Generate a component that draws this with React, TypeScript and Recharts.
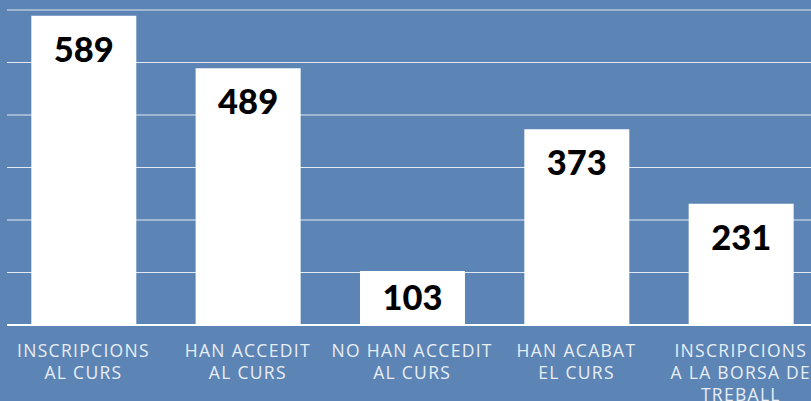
import { BarChart, Bar, XAxis, YAxis, CartesianGrid, LabelList } from 'recharts'

const categories = [
  'INSCRIPCIONS\nAL CURS',
  'HAN ACCEDIT\nAL CURS',
  'NO HAN ACCEDIT\nAL CURS',
  'HAN ACABAT\nEL CURS',
  'INSCRIPCIONS\nA LA BORSA DE\nTREBALL',
]
const values = [589, 489, 103, 373, 231]
const yTicks = [0, 100, 200, 300, 400, 500, 600]

const data = categories.map((name, i) => ({ name, value: values[i] }))

const BG = '#5c84b4'

function CategoryTick(props: any) {
  const { x, y, payload } = props
  const lines = String(payload.value).split('\n')
  return (
    <text
      x={x}
      y={y + 24}
      textAnchor="middle"
      fill="#e8eef6"
      fontFamily="'Open Sans', sans-serif"
      fontSize={17.5}
      letterSpacing={1.3}
    >
      {lines.map((line, i) => (
        <tspan key={i} x={x} dy={i === 0 ? 0 : 22}>
          {line}
        </tspan>
      ))}
    </text>
  )
}

function ValueLabel(props: any) {
  const { x, y, width, height, value } = props
  // short bars get their number centred
  const top = y + Math.min(21, (height - 25) / 2)
  return (
    <text
      x={x + width / 2}
      y={top + 25}
      textAnchor="middle"
      fill="#000"
      fontFamily="Lato, sans-serif"
      fontWeight={900}
      fontSize={34.5}
    >
      {value}
    </text>
  )
}

export default function App() {
  return (
    <div
      style={{
        position: 'fixed',
        left: 0,
        top: 0,
        width: 811,
        height: 401,
        overflow: 'hidden',
        background: BG,
      }}
    >
      <BarChart
        width={823}
        height={401}
        data={data}
        margin={{ top: 10, right: 0, left: 7, bottom: 0 }}
        barSize={105}
      >
        <CartesianGrid vertical={false} stroke="#e2e9f2" strokeWidth={1} />
        <YAxis hide domain={[0, 600]} ticks={yTicks} />
        <XAxis
          dataKey="name"
          height={76}
          interval={0}
          padding={{ left: -5.7, right: 0 }}
          axisLine={{ stroke: '#ffffff', strokeWidth: 2 }}
          tickLine={false}
          tick={<CategoryTick />}
        />
        <Bar dataKey="value" fill="#ffffff" isAnimationActive={false}>
          <LabelList dataKey="value" content={<ValueLabel />} />
        </Bar>
      </BarChart>
    </div>
  )
}
